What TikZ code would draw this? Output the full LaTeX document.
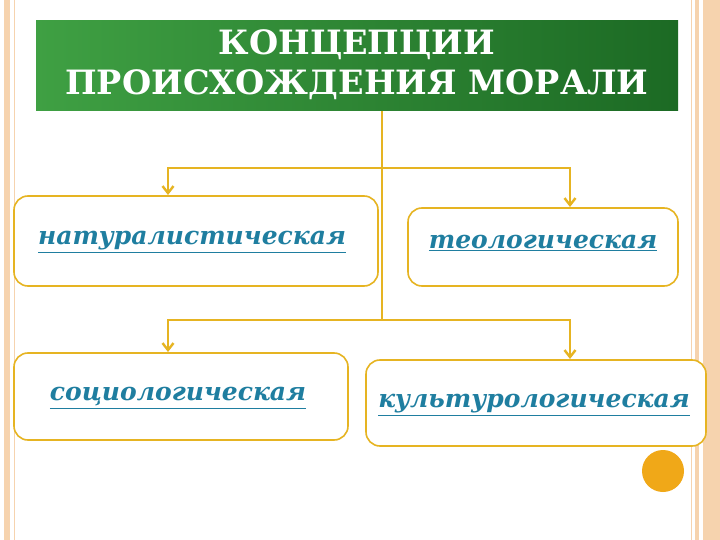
\documentclass[tikz,border=0pt]{standalone}
\usepackage{fontspec}
\setmainfont{DejaVu Serif}
\usetikzlibrary{arrows.meta}
\definecolor{gold}{HTML}{E6B422}
\definecolor{teal}{HTML}{1F7EA0}
\definecolor{beige}{HTML}{F6D3AE}
\definecolor{gl}{HTML}{3FA043}
\definecolor{gd}{HTML}{1C6A24}
\tikzset{
 box/.style={draw=gold, line width=1.6pt, rounded corners=14pt, fill=white},
 lab/.style={text=teal, font=\bfseries\itshape\fontsize{25}{28}\selectfont},
 conn/.style={draw=gold, line width=2pt},
 arr/.style={conn, -{Straight Barb[length=7pt,width=11pt,line width=2.4pt]}}
}
\begin{document}
\begin{tikzpicture}[x=1pt,y=-1pt]
\useasboundingbox (0,0) rectangle (720,540);
\fill[white] (0,0) rectangle (720,540);
% borders
\fill[beige] (4,0) rectangle (10,540);
\draw[beige, line width=0.8pt] (14,0) -- (14,540);
\draw[beige, line width=0.8pt] (691,0) -- (691,540);
\fill[beige] (695,0) rectangle (699,540);
\fill[beige] (703,0) rectangle (720,540);
% title
\shade[left color=gl, right color=gd] (36,21) rectangle (678,111);
\node (title) [text=white, align=center, font=\bfseries\fontsize{33.5}{40}\selectfont] at (357,65) {КОНЦЕПЦИИ\\ПРОИСХОЖДЕНИЯ МОРАЛИ};
\coordinate (t) at (382,111);
\coordinate (m1) at (382,168);
\coordinate (m2) at (382,320);
% boxes
\draw[box] (14,196) rectangle (378,286);
\draw[box] (408,208) rectangle (678,286);
\draw[box] (14,353) rectangle (348,440);
\draw[box] (366,360) rectangle (706,446);
\coordinate (b1) at (168,195);
\coordinate (b2) at (570,207);
\coordinate (b3) at (168,352);
\coordinate (b4) at (570,359);
\node[lab] (n1) at (192,242) {\underline{натуралистическая}};
\node[lab] (n2) at (543,243) {\underline{теологическая}};
\node[lab] (n3) at (178,398) {\underline{социологическая}};
\node[lab] (n4) at (534,405) {\underline{культурологическая}};
% connectors
\draw[conn] (t) -- (m2);
\draw[arr] (m1) -| (b1);
\draw[arr] (m1) -| (b2);
\draw[arr] (m2) -| (b3);
\draw[arr] (m2) -| (b4);
\fill[color={rgb,255:red,240;green,168;blue,24}] (663,471) circle (21);
\end{tikzpicture}
\end{document}
